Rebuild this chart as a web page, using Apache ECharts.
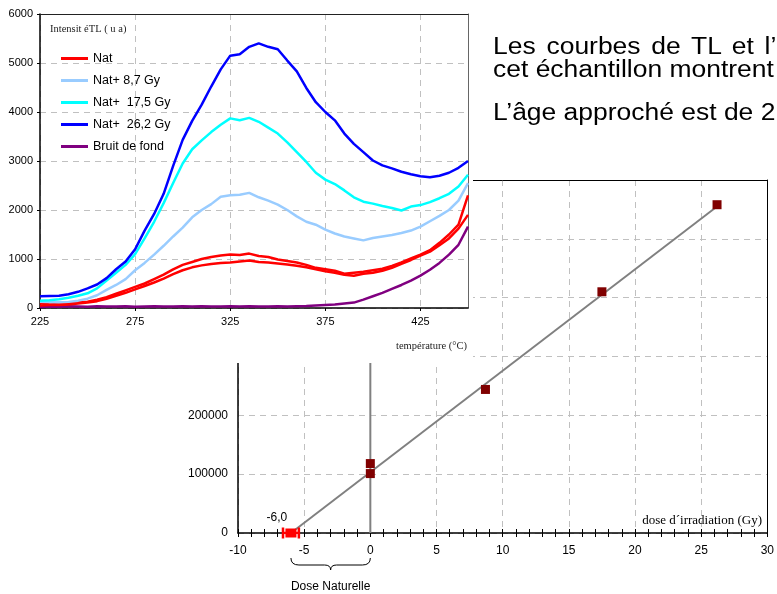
<!DOCTYPE html>
<html>
<head>
<meta charset="utf-8">
<script src="https://cdn.jsdelivr.net/npm/echarts@6/dist/echarts.min.js"></script>
<style>
  html, body { margin: 0; padding: 0; background: #fff; }
  #slide { position: relative; width: 777px; height: 594px; overflow: hidden; }
  #fit { position: absolute; left: 0; top: 0; width: 777px; height: 594px; }
  #tl { position: absolute; left: 0; top: 0; width: 473px; height: 363px; background: #fff; z-index: 2; }
  .txt { position: absolute; left: 493px; font-family: 'Liberation Sans', Arial, sans-serif; font-size: 23px; line-height: 23px;
         white-space: nowrap; color: #000; transform: scaleX(1.15); transform-origin: left center; }
</style>
</head>
<body>
<div id="slide">
  <div id="fit"></div>
  <div id="tl"></div>
  <div class="txt" style="top:35px; word-spacing:3px;">Les courbes de TL et l’i</div>
  <div class="txt" style="top:58px;">cet échantillon montrent</div>
  <div class="txt" style="top:101px;">L’âge approché est de 2</div>
</div>
<script>
// courbes de TL (température en °C, intensité en u.a.)
const temperatures = [225, 230, 235, 240, 245, 250, 255, 260, 265, 270, 275, 280, 285, 290, 295, 300,
  305, 310, 315, 320, 325, 330, 335, 340, 345, 350, 355, 360, 365, 370, 375, 380, 385, 390, 395, 400,
  405, 410, 415, 420, 425, 430, 435, 440, 445, 450]
const natA = [100, 70, 80, 90, 110, 130, 170, 220, 290, 360, 430, 500, 590, 680, 790, 880,
  940, 1000, 1040, 1070, 1090, 1080, 1110, 1060, 1040, 990, 960, 930, 880, 820, 790, 760, 700, 720, 740, 770,
  800, 860, 930, 1010, 1090, 1180, 1330, 1500, 1700, 2300]
const natB = [50, 60, 60, 70, 90, 110, 140, 190, 250, 310, 380, 450, 520, 600, 690, 770,
  830, 870, 900, 920, 930, 950, 970, 940, 930, 910, 890, 860, 830, 790, 750, 720, 680, 660, 700, 720,
  760, 820, 900, 980, 1070, 1150, 1280, 1420, 1620, 1900]
const nat87 = [130, 120, 115, 125, 150, 190, 260, 370, 470, 590, 770, 920, 1090, 1270, 1460, 1640,
  1850, 2000, 2120, 2270, 2300, 2310, 2350, 2260, 2190, 2110, 2000, 1870, 1760, 1700, 1600, 1520, 1460, 1420, 1380, 1430,
  1460, 1490, 1530, 1580, 1660, 1770, 1880, 2000, 2190, 2550]
const nat175 = [150, 160, 180, 210, 250, 300, 400, 560, 720, 880, 1100, 1420, 1760, 2140, 2550, 2950,
  3240, 3420, 3590, 3740, 3870, 3830, 3880, 3800, 3680, 3560, 3380, 3180, 2980, 2760, 2620, 2530, 2400, 2260, 2170, 2130,
  2080, 2040, 1990, 2070, 2100, 2160, 2240, 2330, 2480, 2720]
const nat262 = [240, 245, 250, 280, 330, 400, 480, 610, 790, 950, 1200, 1580, 1920, 2330, 2900, 3430,
  3820, 4150, 4520, 4870, 5150, 5180, 5330, 5400, 5330, 5280, 5050, 4830, 4490, 4200, 4000, 3830, 3560, 3350, 3180, 3010,
  2910, 2850, 2780, 2730, 2690, 2670, 2700, 2760, 2860, 3000]
const bruit = [20, 30, 25, 35, 30, 25, 35, 30, 30, 35, 25, 30, 35, 30, 30, 35,
  30, 35, 30, 30, 35, 30, 35, 30, 30, 35, 30, 35, 40, 50, 60, 70, 90, 110, 170, 240,
  310, 390, 470, 560, 660, 780, 920, 1090, 1290, 1660]
const tlNames = ['Nat', 'Nat+ 8,7 Gy', 'Nat+  17,5 Gy', 'Nat+  26,2 Gy', 'Bruit de fond']

// droite de régénération (dose en Gy, signal intégré)
const doses = [0, 0, 8.7, 17.5, 26.2]
const signal = [101000, 118000, 244000, 410000, 558000]
const fitDoses = [-6.0, 26.2]
const fitSignal = [0, 555000]
const zeroX = [0, 0]
const zeroY = [0, 600000]
const doseNat = -6.0
const doseNatErr = 0.6

const pair = (xs, ys) => xs.map((x, i) => [x, ys[i]])
const brut = v => String(v)
const grille = { show: true, lineStyle: { color: '#c0c0c0', type: [6, 5], width: 1 } }
// axe de cadre (haut / droite) : juste le trait
const cadre = (extra, color) => Object.assign({
  type: 'value', axisLine: { show: true, onZero: false, lineStyle: { color, width: 1 } },
  axisTick: { show: false }, axisLabel: { show: false }, splitLine: { show: false }
}, extra)

// ---- graphique TL ----
const tl = echarts.init(document.getElementById('tl'))
const tlSerie = (name, values, color) => ({
  name, type: 'line', data: pair(temperatures, values), symbol: 'none',
  lineStyle: { color, width: 2.5 }, itemStyle: { color }
})
tl.setOption({
  animation: false,
  backgroundColor: '#fff',
  grid: { left: 40, top: 14, width: 428, height: 294 },
  xAxis: [{
    type: 'value', min: 225, max: 450, interval: 50,
    axisLine: { onZero: false, lineStyle: { color: '#000', width: 1.5 } },
    axisTick: { length: 3, lineStyle: { color: '#000' } },
    axisLabel: { color: '#000', fontSize: 11, fontFamily: 'Liberation Sans', margin: 8, showMaxLabel: false, formatter: brut },
    splitLine: grille
  }, cadre({ min: 225, max: 450, position: 'top' }, '#222')],
  yAxis: [{
    type: 'value', min: 0, max: 6000, interval: 1000,
    axisLine: { show: true, onZero: false, lineStyle: { color: '#000', width: 1.5 } },
    axisTick: { show: true, length: 3, lineStyle: { color: '#000' } },
    axisLabel: { color: '#000', fontSize: 11, fontFamily: 'Liberation Sans', margin: 7, formatter: brut },
    splitLine: grille
  }, cadre({ min: 0, max: 6000, position: 'right' }, '#666')],
  legend: {
    orient: 'vertical', left: 56, top: 47, itemWidth: 27, itemHeight: 3, itemGap: 9, icon: 'rect',
    selectedMode: false, data: tlNames,
    textStyle: { fontSize: 12.5, fontFamily: 'Liberation Sans', color: '#000' }
  },
  graphic: [
    { type: 'text', left: 50, top: 24, style: { text: 'Intensit éTL ( u a)', font: '10.5px "Liberation Serif"', fill: '#222' } },
    { type: 'text', right: 6, top: 341, style: { text: 'température (°C)', font: '10.5px "Liberation Serif"', fill: '#222' } }
  ],
  series: [
    tlSerie('Bruit de fond', bruit, '#800080'),
    tlSerie(tlNames[0], natA, '#ff0000'),
    tlSerie(tlNames[0], natB, '#ff0000'),
    tlSerie(tlNames[1], nat87, '#99ccff'),
    tlSerie(tlNames[2], nat175, '#00ffff'),
    tlSerie(tlNames[3], nat262, '#0000ff')
  ]
})

// ---- droite dose / signal ----
const fit = echarts.init(document.getElementById('fit'))
const xCommun = { type: 'value', min: -10, max: 30, interval: 5, gridIndex: 0, position: 'bottom' }
const plein = color => ({ color, opacity: 1 })
fit.setOption({
  animation: false,
  grid: { left: 238, top: 180, width: 534, height: 353 },
  xAxis: [
    Object.assign({}, xCommun, {
      axisLine: { onZero: false, lineStyle: { color: '#000', width: 1.5 } },
      axisTick: { length: 4, lineStyle: { color: '#000' } },
      minorTick: { show: true, splitNumber: 5, length: 4, lineStyle: { color: '#000' } },
      axisLabel: { color: '#000', fontSize: 12, fontFamily: 'Liberation Sans', margin: 12, formatter: brut },
      splitLine: grille
    }),
    Object.assign({}, xCommun, {
      axisLine: { show: false, onZero: false },
      axisTick: { inside: true, length: 4, lineStyle: { color: '#000' } },
      minorTick: { show: true, splitNumber: 5, length: 4, lineStyle: { color: '#000' } },
      axisLabel: { show: false },
      splitLine: { show: false }
    }),
    cadre({ min: -10, max: 30, position: 'top' }, '#000')
  ],
  yAxis: [{
    type: 'value', min: 0, max: 600000, interval: 100000, position: 'left',
    axisLine: { show: true, onZero: false, lineStyle: { color: '#000', width: 1.5 } },
    axisTick: { show: false },
    axisLabel: { color: '#000', fontSize: 12, fontFamily: 'Liberation Sans', margin: 10, formatter: brut },
    splitLine: grille
  }, cadre({ min: 0, max: 600000, position: 'right' }, '#000')],
  series: [
    { type: 'line', data: pair(zeroX, zeroY), symbol: 'none', lineStyle: { color: '#808080', width: 2 }, z: 3 },
    { type: 'line', data: pair(fitDoses, fitSignal), symbol: 'none', lineStyle: { color: '#808080', width: 2 }, z: 4 },
    { type: 'scatter', data: pair(doses, signal), symbol: 'rect', symbolSize: 9, itemStyle: plein('#800000'), z: 5 },
    {
      type: 'line', data: [[doseNat - doseNatErr, 0], [doseNat + doseNatErr, 0]], symbol: 'none',
      lineStyle: { color: '#ff0000', width: 2.5 }, z: 5
    },
    {
      type: 'scatter', data: [[doseNat - doseNatErr, 0], [doseNat + doseNatErr, 0]], symbol: 'rect',
      symbolSize: [2.5, 11], itemStyle: plein('#ff0000'), z: 5
    },
    {
      type: 'scatter', data: [[doseNat, 0]], symbol: 'rect', symbolSize: [11, 9], itemStyle: plein('#ff0000'), z: 6,
      label: {
        show: true, position: 'top', offset: [-14, 0], color: '#000', fontSize: 12, fontFamily: 'Liberation Sans',
        formatter: p => p.value[0].toFixed(1).replace('.', ',')
      }
    }
  ]
})

// accolade "Dose Naturelle" sous l'axe, de doseNat à 0
const x1 = fit.convertToPixel({ xAxisIndex: 0 }, doseNat)
const x2 = fit.convertToPixel({ xAxisIndex: 0 }, 0)
const mid = (x1 + x2) / 2
const yb = 558
const trait = { fill: 'none', stroke: '#000', lineWidth: 1 }
const courbe = (ax, ay, cx, cy, bx, by) => ({ type: 'bezierCurve', shape: { x1: ax, y1: ay, cpx1: cx, cpy1: cy, x2: bx, y2: by }, style: trait })
const droit = (ax, ay, bx, by) => ({ type: 'line', shape: { x1: ax, y1: ay, x2: bx, y2: by }, style: trait })
fit.setOption({
  graphic: [
    courbe(x1, yb, x1, yb + 7, x1 + 8, yb + 7),
    droit(x1 + 8, yb + 7, mid - 6, yb + 7),
    courbe(mid - 6, yb + 7, mid, yb + 7, mid, yb + 12),
    courbe(mid, yb + 12, mid, yb + 7, mid + 6, yb + 7),
    droit(mid + 6, yb + 7, x2 - 8, yb + 7),
    courbe(x2 - 8, yb + 7, x2, yb + 7, x2, yb),
    { type: 'text', x: mid, y: 587, style: { text: 'Dose Naturelle', font: '12px "Liberation Sans"', fill: '#000', align: 'center', verticalAlign: 'middle' } },
    { type: 'text', right: 15, top: 514, style: { text: 'dose d´irradiation (Gy)', font: '13px "Liberation Serif"', fill: '#000' } }
  ]
})
</script>
</body>
</html>
